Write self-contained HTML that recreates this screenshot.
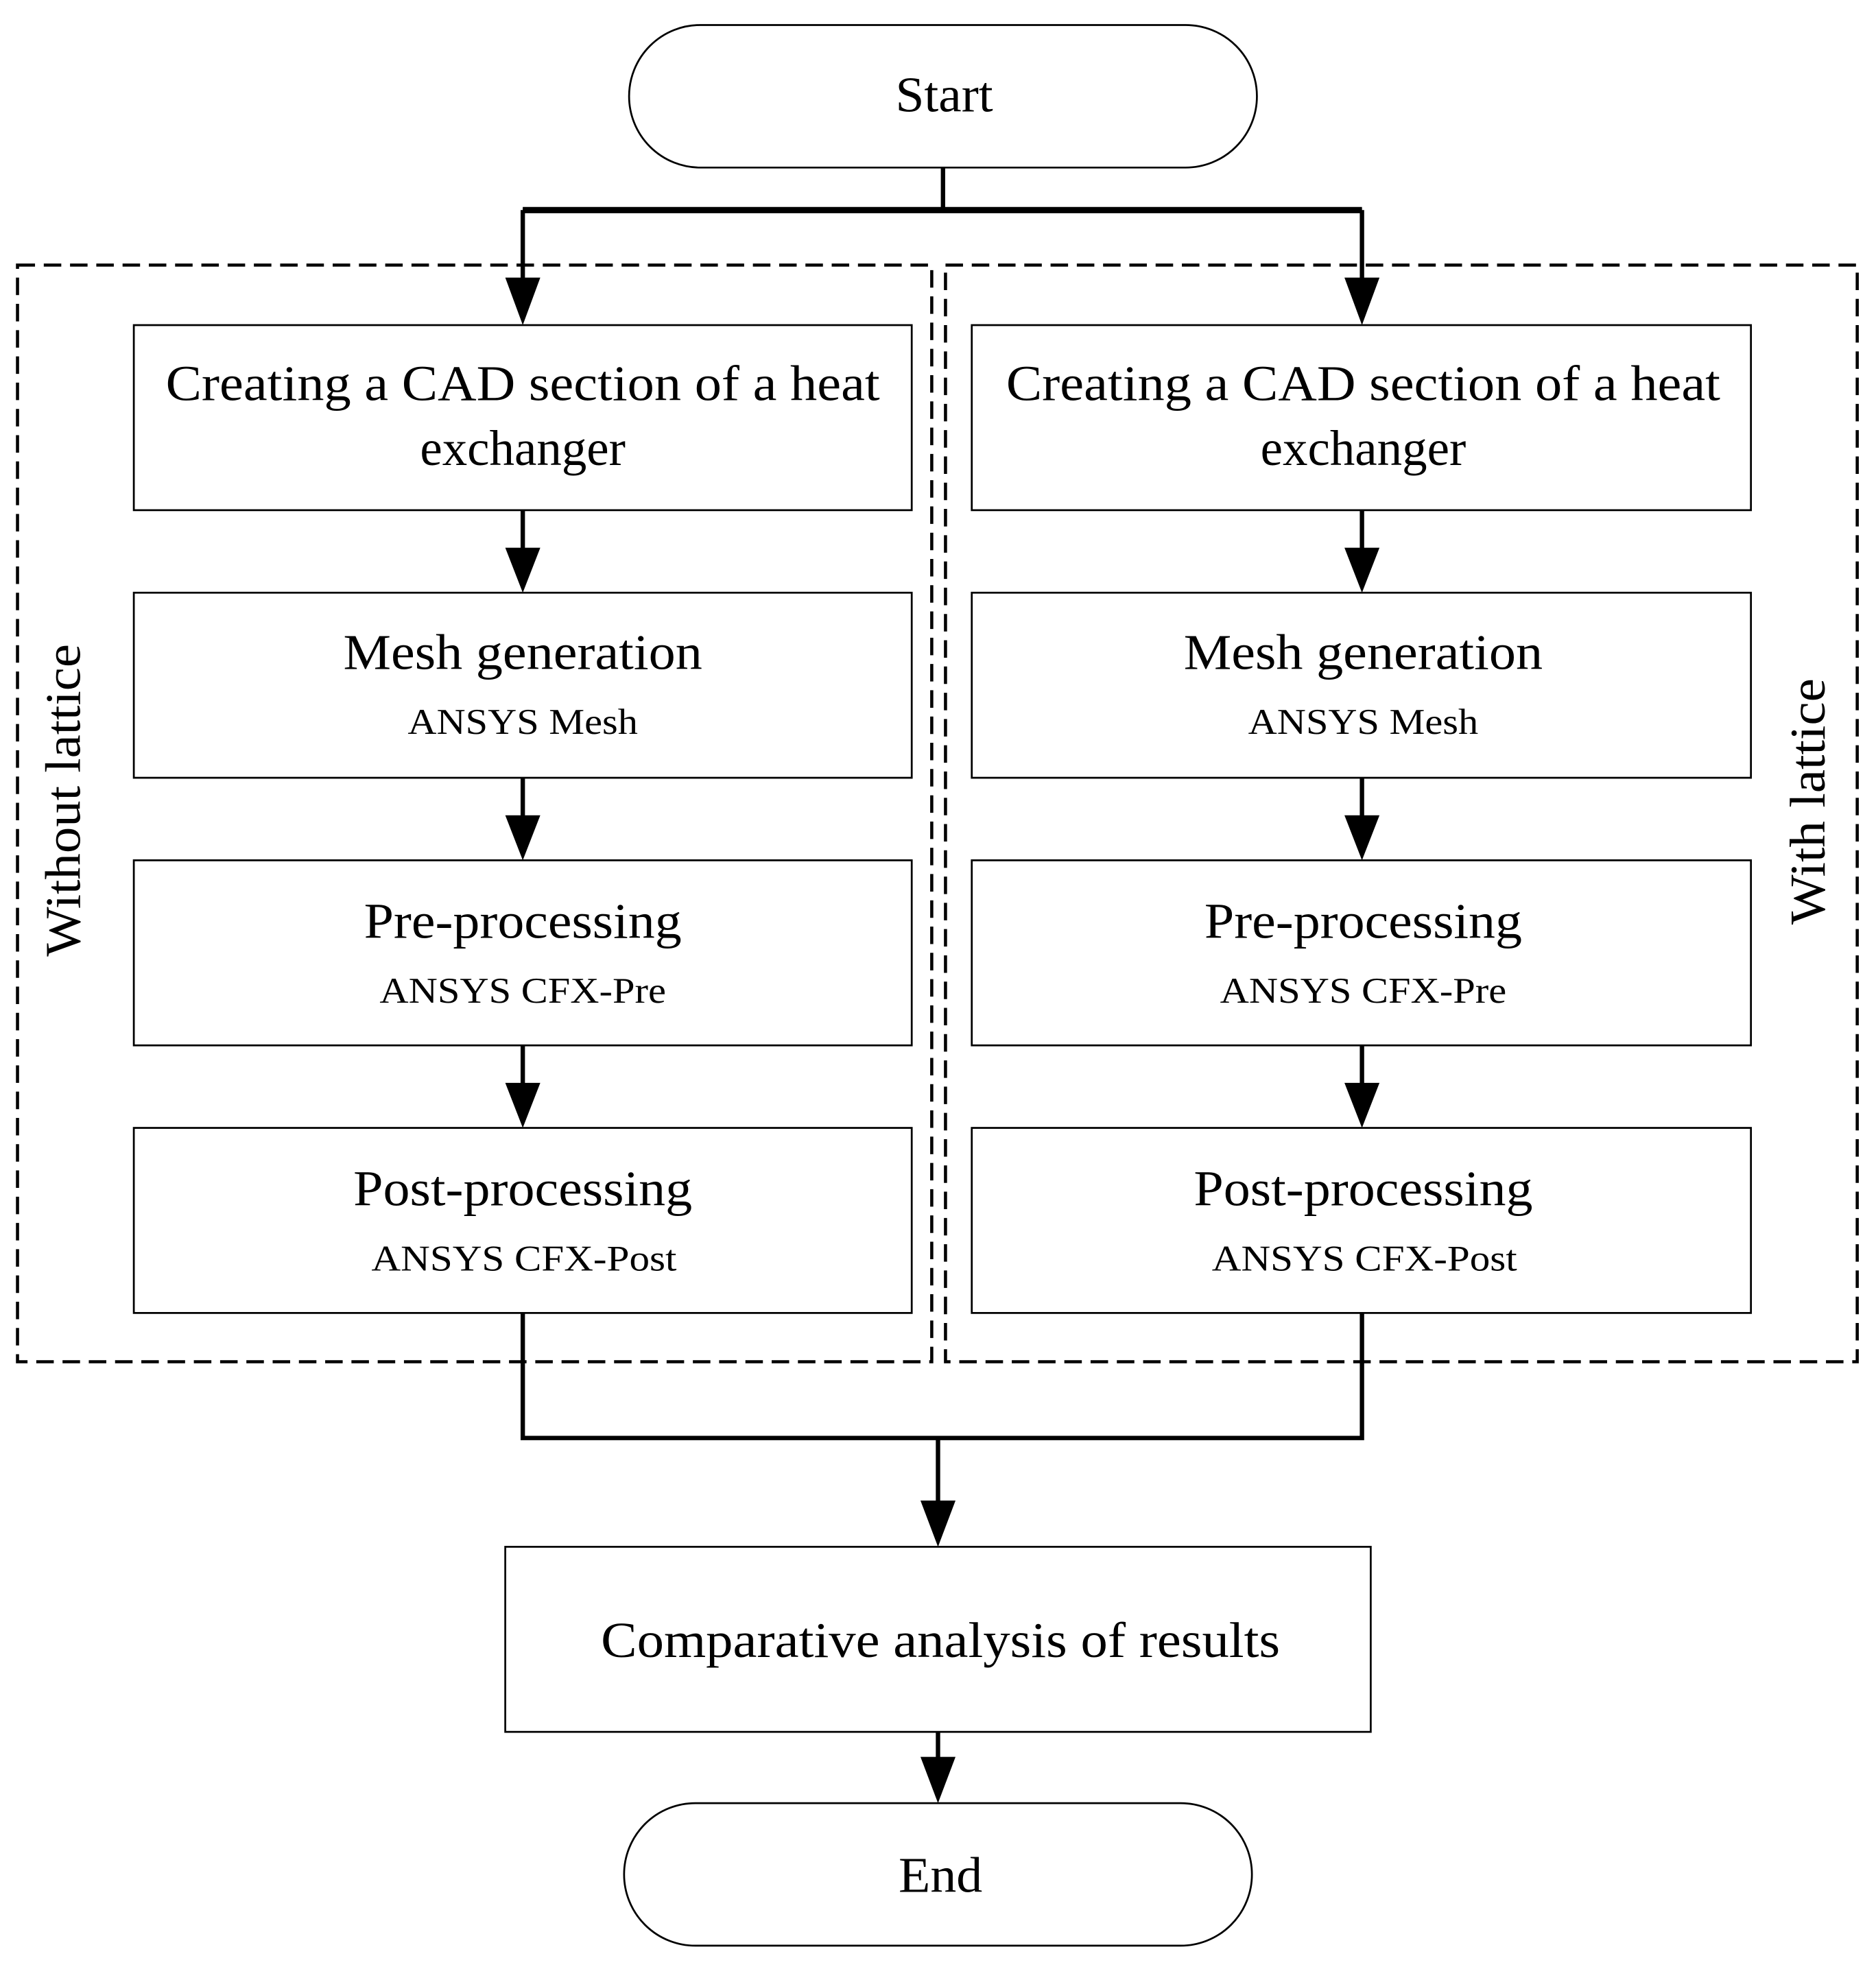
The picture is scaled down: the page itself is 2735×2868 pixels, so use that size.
<!DOCTYPE html>
<html><head><style>html,body{margin:0;padding:0;background:#fff}</style></head><body>
<svg width="2735" height="2863" viewBox="0 0 1500 1570.3" preserveAspectRatio="none" xmlns="http://www.w3.org/2000/svg" font-family="Liberation Serif, serif" fill="#000">
<rect x="0" y="0" width="1500" height="1571" fill="#fff"/>
<g fill="none" stroke="#000">
<rect x="503" y="20" width="502" height="114" rx="57" stroke-width="1.5"/>
<rect x="499" y="1442" width="502" height="114" rx="57" stroke-width="1.5"/>
<g stroke-dasharray="14 7" stroke-width="2.5">
<rect x="14" y="212" width="731" height="877"/>
<rect x="756" y="212" width="729" height="877"/>
</g>
<g stroke-width="1.5">
<rect x="107" y="260" width="622" height="148"/>
<rect x="107" y="474" width="622" height="148"/>
<rect x="107" y="688" width="622" height="148"/>
<rect x="107" y="902" width="622" height="148"/>
<rect x="777" y="260" width="623" height="148"/>
<rect x="777" y="474" width="623" height="148"/>
<rect x="777" y="688" width="623" height="148"/>
<rect x="777" y="902" width="623" height="148"/>
<rect x="404" y="1237" width="692" height="148"/>
</g>
<g stroke-width="3.5">
<path d="M754 134V168M418 168H1089M418 168V225M1089 168V225"/>
<path d="M418 408V440M418 622V654M418 836V868M1089 408V440M1089 622V654M1089 836V868"/>
<path d="M418 1050V1150H1089V1050M750 1150V1203M750 1385V1408"/>
</g>
<path d="M418 168H1089" stroke-width="5"/>
</g>
<g>
<path d="M404 222H432L418 260Z"/><path d="M1075 222H1103L1089 260Z"/>
<path d="M404 438H432L418 474Z"/><path d="M1075 438H1103L1089 474Z"/>
<path d="M404 652H432L418 688Z"/><path d="M1075 652H1103L1089 688Z"/>
<path d="M404 866H432L418 902Z"/><path d="M1075 866H1103L1089 902Z"/>
<path d="M736 1200H764L750 1237Z"/><path d="M736 1405H764L750 1442Z"/>
</g>
<g font-size="40" text-anchor="middle">
<text x="755" y="89" textLength="78" lengthAdjust="spacingAndGlyphs">Start</text>
<text x="752" y="1513" textLength="67" lengthAdjust="spacingAndGlyphs">End</text>
<text x="418" y="320" textLength="571" lengthAdjust="spacingAndGlyphs">Creating a CAD section of a heat</text>
<text x="418" y="372">exchanger</text>
<text x="1090" y="320" textLength="571" lengthAdjust="spacingAndGlyphs">Creating a CAD section of a heat</text>
<text x="1090" y="372">exchanger</text>
<text x="418" y="535" textLength="287" lengthAdjust="spacingAndGlyphs">Mesh generation</text>
<text x="1090" y="535" textLength="287" lengthAdjust="spacingAndGlyphs">Mesh generation</text>
<text x="418" y="750" textLength="254" lengthAdjust="spacingAndGlyphs">Pre-processing</text>
<text x="1090" y="750" textLength="254" lengthAdjust="spacingAndGlyphs">Pre-processing</text>
<text x="418" y="964" textLength="271" lengthAdjust="spacingAndGlyphs">Post-processing</text>
<text x="1090" y="964" textLength="271" lengthAdjust="spacingAndGlyphs">Post-processing</text>
<text x="752" y="1325" textLength="543" lengthAdjust="spacingAndGlyphs">Comparative analysis of results</text>
<text transform="translate(64 640) rotate(-90)" textLength="250" lengthAdjust="spacingAndGlyphs">Without lattice</text>
<text transform="translate(1459 641) rotate(-90)" textLength="197" lengthAdjust="spacingAndGlyphs">With lattice</text>
</g>
<g font-size="29" text-anchor="middle">
<text x="418" y="587" textLength="184" lengthAdjust="spacingAndGlyphs">ANSYS Mesh</text>
<text x="1090" y="587" textLength="184" lengthAdjust="spacingAndGlyphs">ANSYS Mesh</text>
<text x="418" y="802" textLength="229" lengthAdjust="spacingAndGlyphs">ANSYS CFX-Pre</text>
<text x="1090" y="802" textLength="229" lengthAdjust="spacingAndGlyphs">ANSYS CFX-Pre</text>
<text x="419" y="1016" textLength="244" lengthAdjust="spacingAndGlyphs">ANSYS CFX-Post</text>
<text x="1091" y="1016" textLength="244" lengthAdjust="spacingAndGlyphs">ANSYS CFX-Post</text>
</g>
</svg>
</body></html>
